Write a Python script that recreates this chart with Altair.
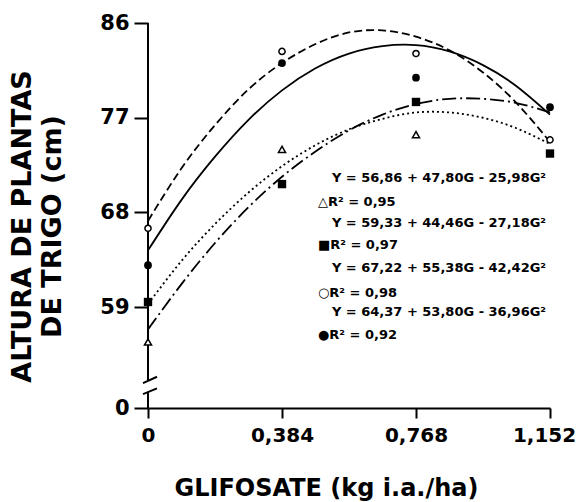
import altair as alt
import pandas as pd

# ---- fitted curves ----
G_FIT = [0, 0.096, 0.192, 0.288, 0.384, 0.48, 0.576, 0.672, 0.768, 0.864, 0.96, 1.056, 1.152]
fit_dashed = [67.2, 72.2, 76.3, 79.7, 82.2, 84.0, 85.1, 85.3, 84.7, 83.4, 81.3, 78.4, 74.7]
fit_solid = [64.4, 69.2, 73.3, 76.8, 79.6, 81.7, 83.1, 83.8, 83.9, 83.3, 82.0, 80.0, 77.3]
fit_dotted = [59.3, 63.4, 66.9, 69.9, 72.4, 74.4, 75.9, 76.9, 77.5, 77.5, 77.0, 76.0, 74.5]
fit_dashdot = [56.9, 61.2, 65.1, 68.5, 71.4, 73.8, 75.8, 77.3, 78.3, 78.8, 78.8, 78.4, 77.5]

# ---- observed points ----
G_OBS = [0, 0.384, 0.768, 1.152]
obs_open_circle = [66.5, 83.3, 83.1, 74.9]
obs_filled_circle = [63.0, 82.2, 80.8, 78.0]
obs_square = [59.5, 70.7, 78.5, 73.6]
G_TRI = [0, 0.384, 0.768]
obs_triangle = [55.7, 74.0, 75.4]

# ---- axes ----
Y_ZERO_POS = 49.43  # broken axis: where the "0" sits
Y_TICKS = [Y_ZERO_POS, 59, 68, 77, 86]
Y_TICK_LABELS = ["0", "59", "68", "77", "86"]
X_TICKS = [0, 0.384, 0.768, 1.152]
X_TICK_LABELS = ["0", "0,384", "0,768", "1,152"]

# ---- equation annotations ----
eq_text = [
    "Y  = 56,86 + 47,80G - 25,98G²",
    "△R² = 0,95",
    "Y  = 59,33 + 44,46G - 27,18G²",
    "■R² = 0,97",
    "Y  = 67,22 + 55,38G - 42,42G²",
    "○R² = 0,98",
    "Y  = 64,37 + 53,80G - 36,96G²",
    "●R² = 0,92",
]
eq_x = [0.527, 0.487, 0.527, 0.487, 0.527, 0.487, 0.527, 0.487]
eq_y = [71.27, 68.98, 66.99, 64.90, 62.71, 60.33, 58.52, 56.34]

FONT = "DejaVu Sans"

xs = alt.Scale(domain=[0, 1.152], nice=False, zero=False)
ys = alt.Scale(domain=[Y_ZERO_POS, 86], nice=False, zero=False)


def lab_expr(vals, labels):
    parts = []
    for v, l in zip(vals, labels):
        parts.append(f"abs(datum.value - {v}) < 0.001 ? '{l}'")
    return " : ".join(parts) + " : ''"


x_axis = alt.Axis(
    values=X_TICKS, labelExpr=lab_expr(X_TICKS, X_TICK_LABELS),
    grid=False, domain=True, domainColor="black", domainWidth=2,
    ticks=True, tickSize=10, tickWidth=2, tickColor="black",
    labelFont=FONT, labelFontSize=20, labelFontWeight="bold", labelColor="black",
    labelPadding=7, labelFlush=False, labelBound=False,
    labelOffset={"condition": {"test": "datum.value > 1", "value": -6}, "value": 0},
    title="GLIFOSATE (kg i.a./ha)", titleFont=FONT, titleFontSize=24,
    titleFontWeight="bold", titleColor="black", titleX=178, titleY=80,
    titleAlign="center", titleBaseline="middle",
)
y_axis = alt.Axis(
    values=Y_TICKS, labelExpr=lab_expr(Y_TICKS, Y_TICK_LABELS),
    grid=False, domain=False,
    ticks=True, tickSize=14, tickWidth=2, tickColor="black",
    labelFont=FONT, labelFontSize=21, labelFontWeight="bold", labelColor="black",
    labelPadding=5, labelFlush=False,
    title=["ALTURA DE PLANTAS", "DE TRIGO (cm)"], titleFont=FONT, titleFontSize=27,
    titleFontWeight="bold", titleColor="black", titleAngle=270,
    titleX=-126, titleY=203, titleAlign="center", titleBaseline="middle",
    titleLineHeight=30,
)


def X(field="G"):
    return alt.X(f"{field}:Q", scale=xs, axis=x_axis)


def Y(field="Y"):
    return alt.Y(f"{field}:Q", scale=ys, axis=y_axis)


layers = []

line_styles = [
    (fit_dashed, [8, 4]),
    (fit_solid, []),
    (fit_dotted, [2, 3]),
    (fit_dashdot, [14, 4, 2, 4]),
]
for vals, dash in line_styles:
    df = pd.DataFrame({"G": G_FIT, "Y": vals})
    kw = dict(color="black", strokeWidth=1.8, interpolate="natural")
    if dash:
        kw["strokeDash"] = dash
    layers.append(alt.Chart(df).mark_line(**kw).encode(x=X(), y=Y()))

# axis line with a break
ax_seg = pd.DataFrame({"Y": [86, 50.9], "y2": [52.1, Y_ZERO_POS]})
layers.append(
    alt.Chart(ax_seg).mark_rule(color="black", strokeWidth=2).encode(
        x=alt.value(0), y=Y(), y2="y2:Q"
    )
)
brk = pd.DataFrame({"Y": [51.8, 50.75], "y2": [52.4, 51.3]})
layers.append(
    alt.Chart(brk).mark_rule(color="black", strokeWidth=2).encode(
        x=alt.value(-5), x2=alt.value(9), y=Y(), y2="y2:Q"
    )
)

pts = [
    (G_OBS, obs_open_circle, "circle", False, 38),
    (G_OBS, obs_filled_circle, "circle", True, 60),
    (G_OBS, obs_square, "square", True, 70),
    (G_TRI, obs_triangle, "triangle-up", False, 50),
]
for gx, vals, shape, filled, size in pts:
    df = pd.DataFrame({"G": gx, "Y": vals})
    kw = dict(shape=shape, size=size, color="black", strokeWidth=1.5, opacity=1)
    if filled:
        kw["filled"] = True
        kw["fill"] = "black"
    else:
        kw["filled"] = False
        kw["fill"] = "white"
        kw["fillOpacity"] = 1
    layers.append(alt.Chart(df).mark_point(**kw).encode(x=X(), y=Y()))

eq_df = pd.DataFrame({"G": eq_x, "Y": eq_y, "t": eq_text})
layers.append(
    alt.Chart(eq_df).mark_text(
        align="left", baseline="middle", font=FONT, fontSize=13, fontWeight="bold", color="black"
    ).encode(x=X(), y=Y(), text="t:N")
)

chart = alt.layer(*layers).properties(
    width=402, height=385,
    autosize=alt.AutoSizeParams(type="none"),
    padding={"left": 148, "top": 23, "right": 27, "bottom": 94},
    background="white",
).configure_view(stroke=None)

chart.save("out.html", embed_options={"renderer": "svg", "actions": False})
